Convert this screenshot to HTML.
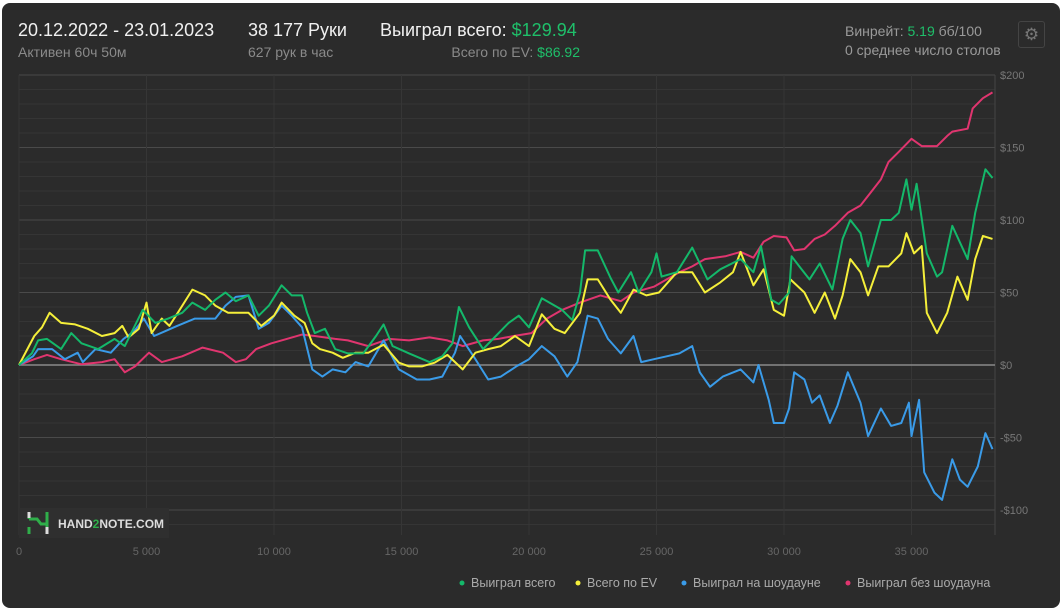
<!DOCTYPE html>
<html><head><meta charset="utf-8">
<style>
html,body{margin:0;padding:0;background:#fff;width:1063px;height:611px;overflow:hidden;font-family:"Liberation Sans","DejaVu Sans",sans-serif;}
#card{position:absolute;left:2px;top:3px;width:1058px;height:605px;background:#2b2b2b;border-radius:8px;}
.t{position:absolute;white-space:nowrap;}
.big{font-size:18px;color:#f0f0f0;}
.sm{font-size:14px;color:#8a8a8a;}
.g{color:#1fbf6a;}
svg{position:absolute;left:0;top:0;}
</style></head><body>
<div id="card">
<div class="t big" style="left:16px;top:17px">20.12.2022 - 23.01.2023</div>
<div class="t sm" style="left:16px;top:41px">Активен 60ч 50м</div>
<div class="t big" style="left:246px;top:17px">38 177 Руки</div>
<div class="t sm" style="left:246px;top:41px">627 рук в час</div>
<div class="t big" style="left:378px;top:17px">Выиграл всего: <span class="g">$129.94</span></div>
<div class="t sm" style="right:480px;top:41px">Всего по EV: <span class="g">$86.92</span></div>
<div class="t sm" style="left:843px;top:20px;color:#9a9a9a">Винрейт: <span class="g">5.19</span> бб/100</div>
<div class="t sm" style="left:843px;top:39px;color:#9a9a9a">0 среднее число столов</div>
<div style="position:absolute;left:1016px;top:18px;width:25px;height:25px;border:1px solid #444;border-radius:3px;color:#777;font-size:17px;text-align:center;line-height:25px">⚙</div>
</div>
<svg id="chart" width="1063" height="611"></svg>
<script>
const greenX=[0,500,750,1100,1650,2050,2450,3100,3750,4150,4400,4850,5350,5850,6400,6800,7300,7700,8100,8500,9000,9400,9800,10300,10700,11100,11300,11600,12000,12400,12900,13500,14000,14300,14650,15300,16100,16600,17000,17250,17650,18200,18700,19200,19600,20000,20500,21300,21700,22000,22200,22700,23200,23500,24000,24300,24800,25000,25200,25800,26400,27000,27500,28300,28800,29100,29500,29800,30200,30300,30600,31000,31400,31900,32300,32600,33000,33300,33800,34200,34500,34800,35000,35200,35600,36000,36200,36600,37200,37500,37900,38177];
const greenY=[0,8,17,18,11,22,15,11,18,13,22,38,29,32,36,43,38,45,50,44,48,34,41,55,48,48,36,22,25,11,8,8,20,28,13,8,2,6,15,40,26,11,20,29,34,26,46,38,31,50,79,79,60,50,64,50,64,77,61,64,81,59,66,73,64,82,45,42,50,75,68,59,70,52,87,100,91,68,100,100,105,128,107,125,77,61,64,96,73,105,135,129];
const yellowX=[0,600,900,1200,1650,2200,2700,3250,3750,4050,4300,4700,5000,5200,5600,5900,6300,6800,7300,7700,8200,9000,9500,10000,10300,10800,11200,11500,11800,12300,12700,13200,13700,14300,14900,15300,15800,16300,16800,17400,17900,18400,18900,19450,20000,20500,21000,21400,22000,22300,22700,23200,23600,24100,24600,25100,25800,26400,26900,27500,28000,28300,28800,29200,29600,30000,30250,30800,31200,31600,32000,32300,32600,33000,33300,33700,34100,34600,34800,35100,35400,35600,36000,36400,36800,37200,37500,37800,38177];
const yellowY=[0,20,26,36,29,28,25,20,22,27,19,25,43,22,32,27,38,52,48,41,36,36,27,34,43,34,29,15,11,8.5,5,8.5,8.5,14,1.6,-1,-1,1.6,7,-3,8.5,11,13,20,13,35,25,22,36,59,59,45,36,52,48,50,64,64,50,57,64,78,55,66,38,34,59,50,36,50,32,48,73,64,48,68,68,77,91,77,82,36,22,36,61,45,73,89,87];
const blueX=[0,550,750,1300,1800,2300,2500,3000,3600,4100,4500,4900,5300,5700,6200,6900,7400,7700,8100,8500,9000,9400,9800,10300,10700,11100,11500,11900,12300,12800,13200,13700,14300,14900,15600,16100,16600,17100,17300,17900,18400,18900,19500,20000,20500,21000,21500,21900,22300,22700,23100,23600,24100,24400,24900,25400,25900,26400,26700,27100,27600,28300,28800,29000,29400,29600,30000,30200,30400,30800,31100,31400,31800,32100,32500,33000,33300,33800,34200,34600,34900,35000,35300,35500,35900,36200,36600,36900,37200,37600,37900,38177];
const blueY=[0,6,11,11,4,8.5,2,11,8.5,18,23,32,20,23,27,32,32,32,41,47,48,25,29,41,34,26,-3,-8,-3,-5,2,-1,17,-3,-10,-10,-8,8.5,20,4,-10,-8,-1,4,13,6,-8,2,34,32,18,8,20,2,4,6,8,13,-5,-15,-8,-3,-12,0,-24,-40,-40,-30,-5,-10,-26,-21,-40,-28,-5,-26,-49,-30,-42,-40,-26,-49,-24,-74,-88,-93,-65,-79,-84,-70,-47,-58];
const redX=[0,600,1100,1650,2450,3250,3750,4150,4550,5100,5600,6400,7200,8000,8500,8900,9300,9900,10500,11100,11600,12400,12900,13700,14500,15300,16100,16800,17400,18200,18800,19400,20100,20700,21300,22000,22800,23600,24100,24900,25400,25900,26400,26900,27700,28300,28800,29200,29600,30100,30400,30800,31200,31600,32000,32500,33000,33400,33800,34100,34500,35000,35400,36000,36400,36600,37200,37400,37800,38177];
const redY=[0,4,7,4,0.5,2,4,-5,-1,8.5,2,6,12,8.5,2,4,11,15,18,21,20,18,17,13,18,17,19,17,13,17,18,20,22,32,38,43,48,44,50,54,59,64,68,73,75,78,74,85,89,88,79,80,87,90,96,105,110,119,128,140,147,156,151,151,158,161,163,177,184,188];
const xTicks=[0,5000,10000,15000,20000,25000,30000,35000];
const xTickLabels=["0","5 000","10 000","15 000","20 000","25 000","30 000","35 000"];
const yTicks=[200,150,100,50,0,-50,-100];
const yTickLabels=["$200","$150","$100","$50","$0","-$50","-$100"];
const legendNames=["Выиграл всего","Всего по EV","Выиграл на шоудауне","Выиграл без шоудауна"];

const X0=19,X1=995,Y0=75,Y1=535;
const sx=v=>X0+v*(25.5/1000);
const sy=v=>365-v*1.45;
const svg=document.getElementById('chart');
const NS='http://www.w3.org/2000/svg';
function mk(tag,attrs){const e=document.createElementNS(NS,tag);for(const k in attrs)e.setAttribute(k,attrs[k]);svg.appendChild(e);return e;}
for(let v=-110;v<=200;v+=10){
  const l=mk('line',{x1:X0,x2:X1,y1:sy(v),y2:sy(v),stroke:v%50===0?'#4a4a4a':'#353535','stroke-width':1});
  
  
}
xTicks.forEach((t,i)=>{
  const l=mk('line',{x1:sx(t),x2:sx(t),y1:Y0,y2:Y1,stroke:'#363636','stroke-width':1});
  
  
  const tx=mk('text',{x:sx(t),y:555,fill:'#666','font-size':11,'text-anchor':'middle','font-family':'Liberation Sans, sans-serif'});
  tx.textContent=xTickLabels[i];
  
  
});
mk('line',{x1:X1,x2:X1,y1:Y0,y2:Y1,stroke:'#444'});
yTicks.forEach((t,i)=>{
  const tx=mk('text',{x:1000,y:sy(t)+4,fill:'#777','font-size':11,'font-family':'Liberation Sans, sans-serif'});
  tx.textContent=yTickLabels[i];
  
  
});
const z=mk('line',{x1:X0,x2:X1,y1:sy(0),y2:sy(0),stroke:'#8a8a8a','stroke-width':1.5});


const wm=mk('rect',{x:19,y:508,width:150,height:30,fill:'#2f2f2f'});


mk('path',{d:'M29 512 v7 M29 519 h8 l4 5 h6 M47 512 v22 M29 527 v7',stroke:'#2fae4a','stroke-width':3,fill:'none'});
mk('path',{d:'M29 512 v6 M47 527 v7',stroke:'#ddd','stroke-width':3,fill:'none'});
const wt=mk('text',{x:58,y:528,fill:'#ddd','font-size':12,'font-weight':'bold','font-family':'Liberation Sans, sans-serif'});
wt.innerHTML='HAND<tspan fill="#2fae4a">2</tspan>NOTE.COM';


const series=[[redX,redY,'#e0356f','series-no-showdown'],[blueX,blueY,'#3a9be8','series-showdown'],[yellowX,yellowY,'#f5ef3a','series-ev'],[greenX,greenY,'#14b86a','series-total']];
series.forEach(s=>{
  const d=s[0].map((x,i)=>(i?'L':'M')+sx(x).toFixed(1)+' '+sy(s[1][i]).toFixed(1)).join(' ');
  const p=mk('path',{d:d,stroke:s[2],'stroke-width':2,fill:'none','stroke-linejoin':'round'});
  
  
});
const lc=['#14b86a','#f5ef3a','#3a9be8','#e0356f'];
const lx=[462,578,684,848];
legendNames.forEach((n,i)=>{
  const c=mk('circle',{cx:lx[i],cy:583,r:2.5,fill:lc[i]});
  
  
  const t=mk('text',{x:lx[i]+9,y:587,fill:'#aaa','font-size':12.5,'font-family':'Liberation Sans, sans-serif'});
  t.textContent=n;
  
  
});
</script>
</body></html>
